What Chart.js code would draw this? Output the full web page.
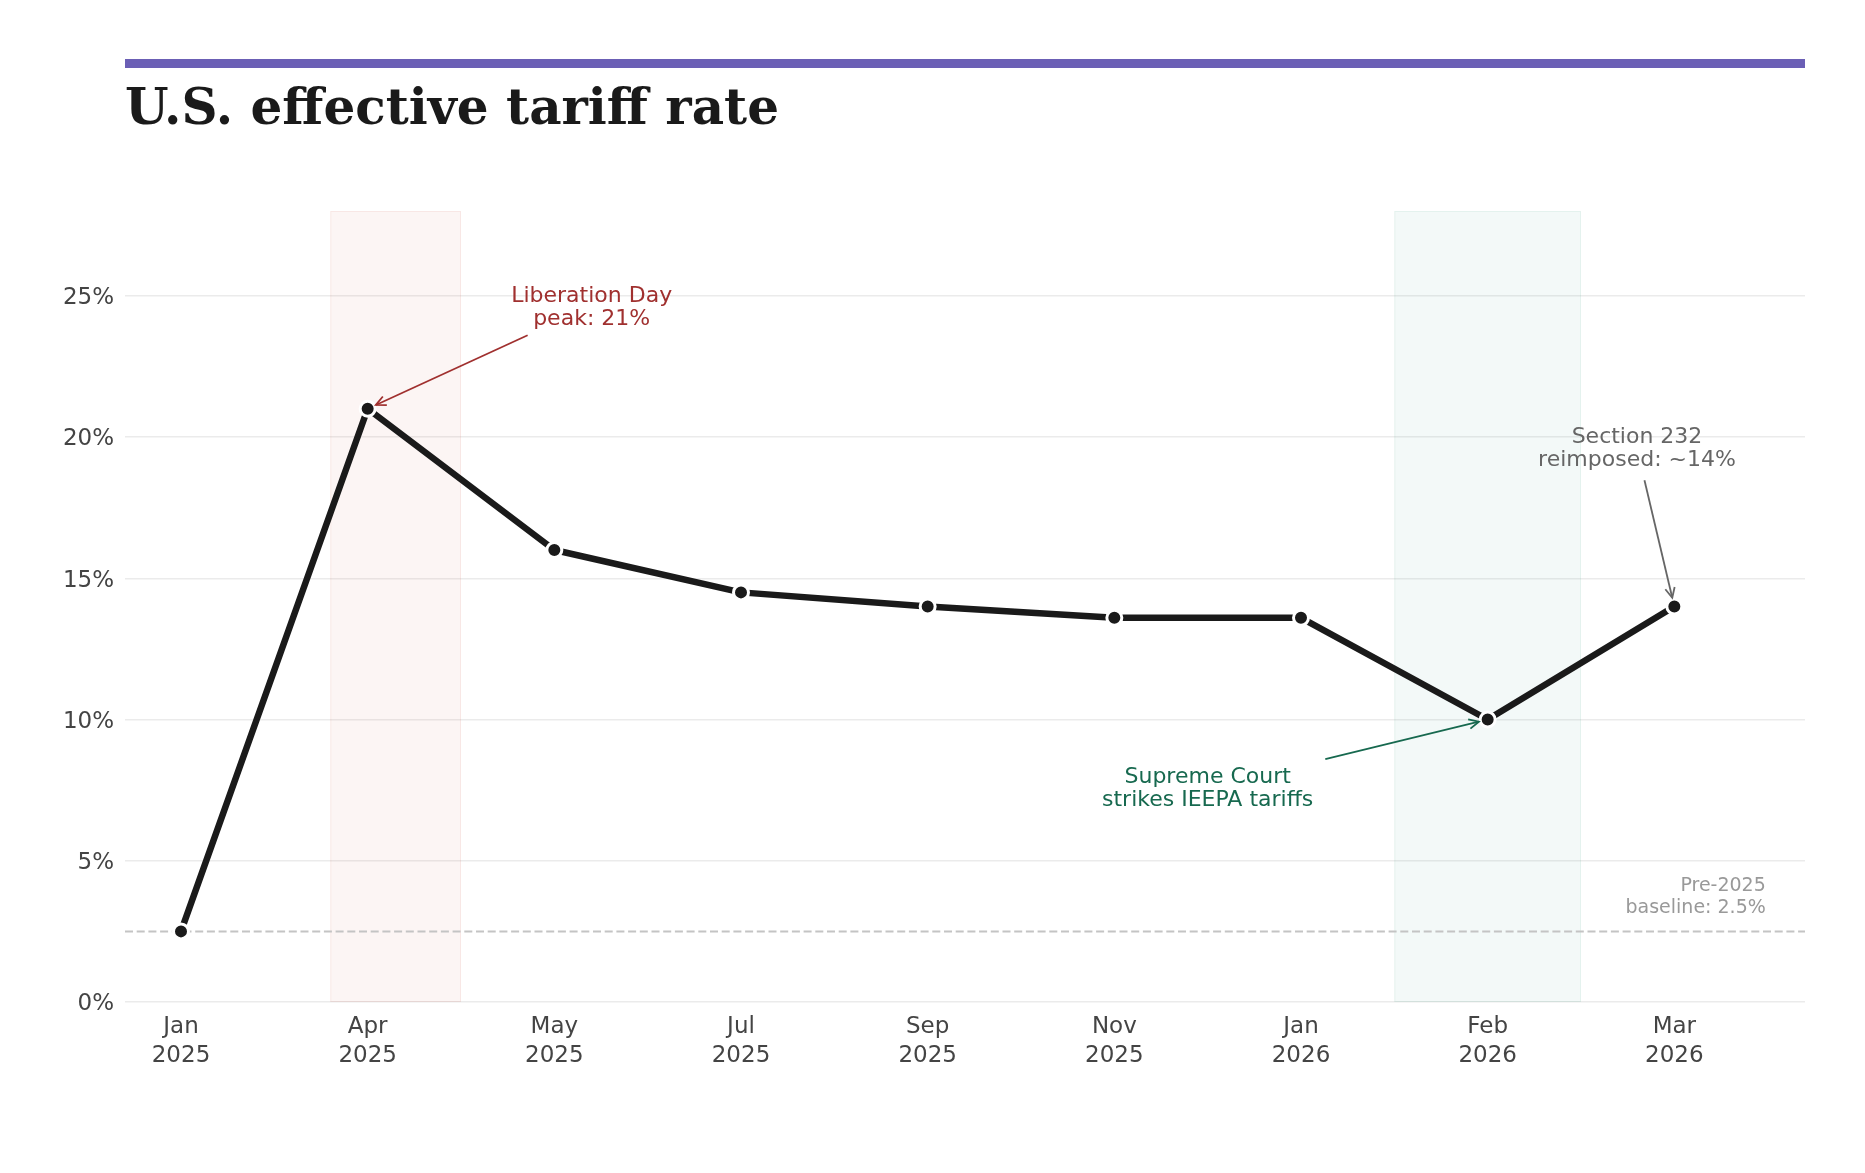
<!DOCTYPE html>
<html>
<head>
<meta charset="utf-8">
<script src="https://cdn.jsdelivr.net/npm/chart.js@4.4.1/dist/chart.umd.min.js"></script>
<style>
  html, body { margin: 0; padding: 0; background: #ffffff; }
  #wrap { position: relative; width: 1865px; height: 1173px; }
</style>
</head>
<body>
<div id="wrap"><canvas id="c" width="1865" height="1173"></canvas></div>
<script>
// ---- data ----
const titleText = 'U.S. effective tariff rate';
const categories = [
  ['Jan', '2025'], ['Apr', '2025'], ['May', '2025'], ['Jul', '2025'], ['Sep', '2025'],
  ['Nov', '2025'], ['Jan', '2026'], ['Feb', '2026'], ['Mar', '2026']
];
const tariffRate = [2.5, 21, 16, 14.5, 14, 13.6, 13.6, 10, 14];
const yTicks = [0, 5, 10, 15, 20, 25];
const baselineRate = 2.5;
const shadeRanges = [[0.8, 1.5], [6.5, 7.5]];
const annotationTexts = [
  ['Liberation Day', 'peak: 21%'],
  ['Section 232', 'reimposed: ~14%'],
  ['Supreme Court', 'strikes IEEPA tariffs']
];
const annotationTargets = [1, 8, 7];            // index of the point each arrow points at
const annotationTextAt = [[2.2, 24.77], [7.8, 19.77], [5.5, 7.75]];   // data coords (first line baseline)
const annotationArrowFrom = [[1.857, 23.6], [7.84, 18.47], [6.13, 8.6]];
const baselineText = ['Pre-2025', 'baseline: 2.5%'];
const baselineTextAt = [8.49, 3.94];

// ---- styles ----
const annotationColors = ['#a0302f', '#666666', '#17694f'];
const shadeColors = ['rgba(200, 80, 60, 0.06)', 'rgba(40, 150, 120, 0.055)'];
const shadeEdge = ['rgba(200, 80, 60, 0.08)', 'rgba(40, 150, 120, 0.07)'];

const decorPlugin = {
  id: 'decor',
  beforeDraw(chart) {
    const ctx = chart.ctx;
    ctx.save();
    ctx.fillStyle = '#ffffff';
    ctx.fillRect(0, 0, chart.width, chart.height);
    // top accent bar
    ctx.fillStyle = '#6b5fb5';
    ctx.fillRect(chart.chartArea.left, 59, chart.chartArea.right - chart.chartArea.left, 9);
    // title
    ctx.fillStyle = '#1a1a1a';
    ctx.font = 'bold 50px "DejaVu Serif"';
    ctx.textBaseline = 'alphabetic';
    ctx.textAlign = 'left';
    ctx.fillText(titleText, chart.chartArea.left, 124);
    ctx.restore();
  },
  beforeDatasetsDraw(chart) {
    const ctx = chart.ctx;
    const xs = chart.scales.x, ys = chart.scales.y;
    const area = chart.chartArea;
    ctx.save();
    shadeRanges.forEach((r, i) => {
      const x0 = xs.getPixelForValue(r[0]);
      const x1 = xs.getPixelForValue(r[1]);
      ctx.fillStyle = shadeColors[i];
      ctx.fillRect(x0, area.top, x1 - x0, area.bottom - area.top);
      ctx.strokeStyle = shadeEdge[i];
      ctx.lineWidth = 1;
      ctx.strokeRect(x0 + 0.5, area.top + 0.5, x1 - x0 - 1, area.bottom - area.top - 1);
    });
    // baseline dashed line
    const by = ys.getPixelForValue(baselineRate);
    ctx.strokeStyle = '#c4c4c4';
    ctx.lineWidth = 2;
    ctx.setLineDash([8, 3.7]);
    ctx.beginPath();
    ctx.moveTo(area.left, by);
    ctx.lineTo(area.right, by);
    ctx.stroke();
    ctx.setLineDash([]);
    ctx.restore();
  },
  afterDatasetsDraw(chart) {
    const ctx = chart.ctx;
    const xs = chart.scales.x, ys = chart.scales.y;
    ctx.save();
    ctx.font = '22px "DejaVu Sans"';
    ctx.textAlign = 'center';
    ctx.textBaseline = 'alphabetic';
    annotationTexts.forEach((lines, i) => {
      const col = annotationColors[i];
      const tx = xs.getPixelForValue(annotationTextAt[i][0]);
      const ty = ys.getPixelForValue(annotationTextAt[i][1]);
      ctx.fillStyle = col;
      lines.forEach((ln, k) => ctx.fillText(ln, tx, ty + k * 23));
      // arrow
      const sx = xs.getPixelForValue(annotationArrowFrom[i][0]);
      const sy = ys.getPixelForValue(annotationArrowFrom[i][1]);
      const t = annotationTargets[i];
      const px = xs.getPixelForValue(t);
      const py = ys.getPixelForValue(tariffRate[t]);
      const dx = px - sx, dy = py - sy;
      const len = Math.hypot(dx, dy);
      const ux = dx / len, uy = dy / len;
      const ex = px - ux * 9, ey = py - uy * 9;
      ctx.strokeStyle = col;
      ctx.lineWidth = 1.8;
      ctx.beginPath();
      ctx.moveTo(sx, sy);
      ctx.lineTo(ex, ey);
      ctx.stroke();
      const ang = Math.atan2(uy, ux);
      const hl = 11, ha = 0.45;
      ctx.beginPath();
      ctx.moveTo(ex - hl * Math.cos(ang - ha), ey - hl * Math.sin(ang - ha));
      ctx.lineTo(ex, ey);
      ctx.lineTo(ex - hl * Math.cos(ang + ha), ey - hl * Math.sin(ang + ha));
      ctx.stroke();
    });
    // baseline label
    ctx.font = '19px "DejaVu Sans"';
    ctx.fillStyle = '#999999';
    ctx.textAlign = 'right';
    const bx = xs.getPixelForValue(baselineTextAt[0]);
    const byy = ys.getPixelForValue(baselineTextAt[1]);
    baselineText.forEach((ln, k) => ctx.fillText(ln, bx, byy + k * 22));
    ctx.restore();
  }
};

const chart = new Chart(document.getElementById('c'), {
  type: 'line',
  data: {
    datasets: [{
      data: tariffRate.map((v, i) => ({ x: i, y: v })),
      borderColor: '#1a1a1a',
      borderWidth: 6.5,
      pointRadius: 7.5,
      pointHoverRadius: 7.5,
      pointBackgroundColor: '#1a1a1a',
      pointBorderColor: '#ffffff',
      pointBorderWidth: 3,
      tension: 0,
      borderCapStyle: 'round',
      borderJoinStyle: 'round'
    }]
  },
  options: {
    responsive: false,
    animation: false,
    devicePixelRatio: 1,
    layout: { padding: { top: 211, right: 60, left: 0, bottom: 0 } },
    plugins: { legend: { display: false }, tooltip: { enabled: false }, title: { display: false } },
    scales: {
      x: {
        type: 'linear',
        min: -0.3,
        max: 8.7,
        afterBuildTicks(scale) { scale.ticks = categories.map((c, i) => ({ value: i })); },
        afterFit(scale) { scale.height = 171; },
        grid: { display: false, drawTicks: false },
        border: { display: false },
        ticks: {
          autoSkip: false,
          maxRotation: 0,
          padding: 11,
          color: '#444444',
          font: { family: 'DejaVu Sans', size: 23, lineHeight: 1.25 },
          callback(v) { return categories[v]; }
        }
      },
      y: {
        min: 0,
        max: 28,
        afterBuildTicks(scale) { scale.ticks = yTicks.map(v => ({ value: v })); },
        afterFit(scale) { scale.width = 125; },
        grid: { color: '#ebebeb', lineWidth: 1.5, drawTicks: false },
        border: { display: false },
        ticks: {
          padding: 11,
          labelOffset: 2.5,
          color: '#444444',
          font: { family: 'DejaVu Sans', size: 23 },
          callback(v) { return v + '%'; }
        }
      }
    }
  },
  plugins: [decorPlugin]
});
</script>
</body>
</html>
